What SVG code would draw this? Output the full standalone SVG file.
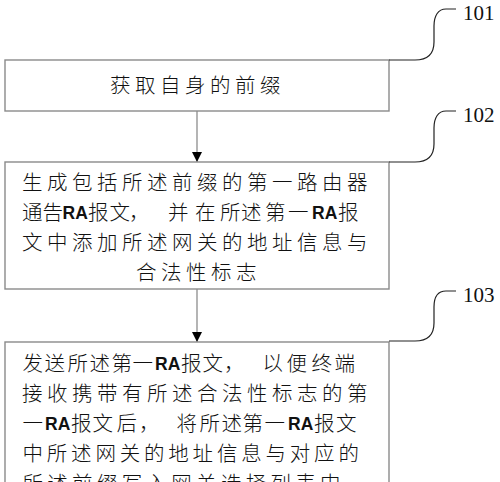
<svg xmlns="http://www.w3.org/2000/svg" width="500" height="482" viewBox="0 0 500 482">
<style>
.box{fill:#fff;stroke:#8a8a8a;stroke-width:1.4}
.cj{font-family:"Noto Sans CJK SC","Noto Sans CJK JP",sans-serif;font-size:20.5px;font-weight:300;fill:#111}
.ls{letter-spacing:4.5px}
.ra{font-family:"Liberation Sans",Arial,sans-serif;font-weight:bold;font-size:17.5px;letter-spacing:0}
.num{font-family:"Liberation Serif","Times New Roman",serif;font-size:21px;fill:#111}
.call{fill:none;stroke:#222;stroke-width:1.2}
.conn{stroke:#777;stroke-width:1.1;fill:none}
</style>
<defs>
<marker id="ah" markerUnits="userSpaceOnUse" markerWidth="10" markerHeight="10" refX="10" refY="5" orient="auto">
<path d="M0,0 L10,5 L0,10 z" fill="#000"/>
</marker>
</defs>
<rect width="500" height="482" fill="#fff"/>

<g id="connectors">
<line class="conn" x1="197" y1="111" x2="197" y2="162" marker-end="url(#ah)"/>
<line class="conn" x1="197" y1="289" x2="197" y2="342" marker-end="url(#ah)"/>
</g>

<g id="node-101">
<rect class="box" x="5" y="60" width="384" height="51"/>
<text class="cj ls" x="110" y="93">获取自身的前缀</text>
<path class="call" d="M389,60 H415 C428,60 434,53 434,42 L434,26 C434,16 438,9 446,9 H456"/>
<text class="num" x="463" y="20">101</text>
</g>

<g id="node-102">
<rect class="box" x="5" y="162" width="384" height="127"/>
<text class="cj ls" x="22" y="190">生成包括所述前缀的第一路由器</text>
<text class="cj" y="220"><tspan x="22 42.5">通告</tspan><tspan class="ra" x="62.5" dy="-1">RA</tspan><tspan x="88 109.5 129 168 195 220 241 265 288" dy="1">报文，并在所述第一</tspan><tspan class="ra" x="312" dy="-1">RA</tspan><tspan x="338" dy="1">报</tspan></text>
<text class="cj ls" x="22" y="250">文中添加所述网关的地址信息与</text>
<text class="cj ls" x="136" y="280">合法性标志</text>
<path class="call" d="M389,162 H415 C428,162 434,155 434,144 L434,128 C434,118 438,111 446,111 H456"/>
<text class="num" x="463" y="122">102</text>
</g>

<g id="node-103">
<rect class="box" x="5" y="342" width="384" height="160"/>
<text class="cj" y="371"><tspan x="22.5 44.5 67.5 89.5 111.5 132.5">发送所述第一</tspan><tspan class="ra" x="155" dy="-1">RA</tspan><tspan x="181 202.5 224 262.5 286.5 311.5 334.5" dy="1">报文，以便终端</tspan></text>
<text class="cj ls" x="22" y="401">接收携带有所述合法性标志的第</text>
<text class="cj" y="431"><tspan x="22.5">一</tspan><tspan class="ra" x="45" dy="-1">RA</tspan><tspan x="71 92.5 116.5 139 176.5 199.5 221.5 242.5 264.5" dy="1">报文后，将所述第一</tspan><tspan class="ra" x="288" dy="-1">RA</tspan><tspan x="314 336" dy="1">报文</tspan></text>
<text class="cj" x="22.5" y="461" style="letter-spacing:3.8px">中所述网关的地址信息与对应的</text>
<text class="cj" x="22.5" y="491" style="letter-spacing:4.3px">所述前缀写入网关选择列表中</text>
<path class="call" d="M389,341 H415 C428,341 434,334 434,323 L434,307 C434,297 438,291 446,291 H456"/>
<text class="num" x="463" y="302">103</text>
</g>
</svg>
